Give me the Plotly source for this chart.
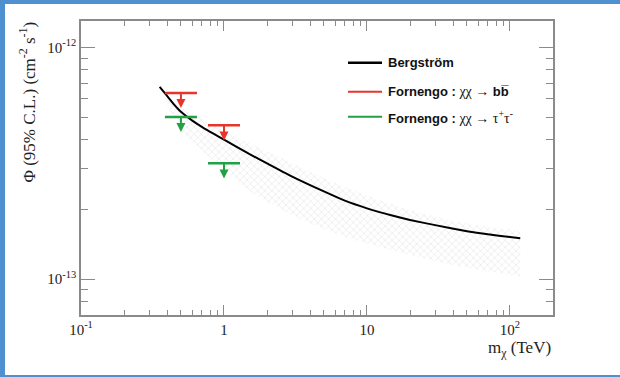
import math
import plotly.graph_objects as go

# ---------------- data ----------------
berg_mass = [0.355, 0.4, 0.45, 0.5, 0.6, 0.7, 0.85, 1.0, 1.5, 2.0, 3.0, 5.0, 7.0, 10.0, 15.0, 20.0, 30.0,
             50.0, 70.0, 100.0, 118.0]
berg_flux = [6.75e-13, 6.17e-13, 5.65e-13, 5.27e-13, 4.83e-13, 4.54e-13, 4.23e-13, 4.00e-13, 3.47e-13,
             3.16e-13, 2.77e-13, 2.39e-13, 2.18e-13, 2.02e-13, 1.88e-13, 1.80e-13, 1.71e-13, 1.61e-13,
             1.56e-13, 1.52e-13, 1.50e-13]

band_mass = [0.40, 0.5, 0.7, 1.0, 1.5, 2.5, 4.0, 7.0, 12.0, 20.0, 40.0, 70.0, 118.0]
band_upper = [6.1e-13, 5.5e-13, 4.9e-13, 4.35e-13, 3.85e-13, 3.35e-13, 2.9e-13, 2.5e-13, 2.2e-13, 1.98e-13,
              1.78e-13, 1.68e-13, 1.62e-13]
band_lower = [5.6e-13, 4.3e-13, 3.6e-13, 2.95e-13, 2.4e-13, 2.0e-13, 1.74e-13, 1.52e-13, 1.38e-13, 1.27e-13,
              1.15e-13, 1.08e-13, 1.03e-13]

bb_mass = [0.5, 1.0]
bb_limit = [6.36e-13, 4.61e-13]
tau_mass = [0.5, 1.0]
tau_limit = [5.01e-13, 3.16e-13]

x_tickvals = [0.1, 1, 10, 100]
x_ticktext = ["10<sup>-1</sup>", "1", "10", "10<sup>2</sup>"]
y_tickvals = [1e-13, 1e-12]
y_ticktext = ["10<sup>-13</sup>", "10<sup>-12</sup>"]

legend_labels = [
    "<b>Bergström</b>",
    "<b>Fornengo :</b><span style='font-family:Liberation Serif;font-size:14px'> χχ → </span><b>bb\u0305</b>",
    "<b>Fornengo :</b><span style='font-family:Liberation Serif;font-size:14px'> χχ → τ<sup>+</sup>τ<sup>-</sup></span>",
]

# ---------------- style ----------------
RED = "#e8352b"
GREEN = "#22a045"
FRAME = "#8a8a8a"
BLUE = "#4f90d0"
PAGE_W, PAGE_H = 620, 377
OFF_X, OFF_Y = 5, 4           # blue border on left / top of the picture
W, H = PAGE_W - OFF_X, PAGE_H - OFF_Y - 2
ML, MT = 81 - OFF_X, 21 - OFF_Y
MR = W - (553 - OFF_X)
MB = H - (315 - OFF_Y)
PW, PH = W - ML - MR, H - MT - MB


def px(xp):  # page pixel -> paper
    return (xp - OFF_X - ML) / PW


def py(yp):
    return (MT + PH - (yp - OFF_Y)) / PH


fig = go.Figure()

# band (hatched)
fig.add_trace(go.Scatter(
    x=band_mass + band_mass[::-1],
    y=band_upper + band_lower[::-1],
    fill="toself", mode="lines", line=dict(width=0, color="rgba(0,0,0,0)"),
    fillcolor="rgba(255,255,255,0)",
    fillpattern=dict(shape="x", fgcolor="#d2d2d2", bgcolor="rgba(255,255,255,0)", size=5, solidity=0.25),
    hoverinfo="skip", showlegend=False))

# Bergstrom curve
fig.add_trace(go.Scatter(x=berg_mass, y=berg_flux, mode="lines",
                         line=dict(color="black", width=2, shape="spline", smoothing=0.5),
                         showlegend=False))

HALF = 0.112   # half-width of limit bars in decades
STEM = 0.065   # arrow length in decades
for masses, limits, col in [(bb_mass, bb_limit, RED), (tau_mass, tau_limit, GREEN)]:
    for m, v in zip(masses, limits):
        fig.add_trace(go.Scatter(x=[m * 10 ** -HALF, m * 10 ** HALF], y=[v, v], mode="lines",
                                 line=dict(color=col, width=2.5), showlegend=False, hoverinfo="skip"))
        fig.add_trace(go.Scatter(x=[m, m], y=[v, v * 10 ** -(STEM * 0.8)], mode="lines",
                                 line=dict(color=col, width=2), showlegend=False, hoverinfo="skip"))
        fig.add_trace(go.Scatter(x=[m], y=[v * 10 ** -STEM], mode="markers",
                                 marker=dict(symbol="arrow-down", size=9, color=col, line=dict(width=0)),
                                 showlegend=False, hoverinfo="skip"))

axis_common = dict(type="log", showgrid=False, zeroline=False, showline=True, linecolor=FRAME, linewidth=1.5,
                   mirror="allticks", ticks="inside", tickcolor=FRAME, tickwidth=1.2,
                   tickfont=dict(family="Liberation Serif", size=15, color="#222"))

x_minor = [d * 10 ** e for e in range(-1, 3) for d in range(2, 10) if d * 10 ** e < 200]
y_minor = [d * 10 ** e for e in (-14, -13) for d in range(2, 10) if 7e-14 <= d * 10 ** e <= 1.3e-12]

fig.update_xaxes(range=[-1, math.log10(200)], tickmode="array", tickvals=x_tickvals, ticktext=x_ticktext,
                 ticklen=10, minor=dict(tickmode="array", tickvals=x_minor, ticks="inside", ticklen=5,
                                        tickcolor=FRAME, tickwidth=1.2),
                 **axis_common)
fig.update_yaxes(range=[math.log10(7e-14), math.log10(1.3e-12)], tickmode="array", tickvals=y_tickvals,
                 ticktext=y_ticktext, ticklen=14,
                 minor=dict(tickmode="array", tickvals=y_minor, ticks="inside", ticklen=7,
                            tickcolor=FRAME, tickwidth=1.2),
                 **axis_common)

# axis titles
fig.add_annotation(xref="paper", yref="paper", x=px(553), y=py(336), xanchor="right", yanchor="top",
                   text="m<sub>χ</sub> (TeV)", showarrow=False,
                   font=dict(family="Liberation Serif", size=17, color="#222"))
fig.add_annotation(xref="paper", yref="paper", x=px(27), y=py(20), xanchor="center", yanchor="top",
                   textangle=-90, text="Φ (95% C.L.) (cm<sup>-2</sup> s<sup>-1</sup>)", showarrow=False,
                   font=dict(family="Liberation Serif", size=17, color="#222"))

# legend (manual)
rows_y = [62.7, 91.7, 116.7]
cols = ["black", RED, GREEN]
for yy, col, lab in zip(rows_y, cols, legend_labels):
    fig.add_shape(type="line", xref="paper", yref="paper", x0=px(348), x1=px(382), y0=py(yy), y1=py(yy),
                  line=dict(color=col, width=2.5 if col == "black" else 2))
    fig.add_annotation(xref="paper", yref="paper", x=px(386), y=py(yy), xanchor="left", yanchor="middle",
                       text=lab, showarrow=False,
                       font=dict(family="Liberation Sans", size=13, color="#111"))

fig.update_layout(width=W, height=H, margin=dict(l=ML, r=MR, t=MT, b=MB),
                  paper_bgcolor="white", plot_bgcolor="white", showlegend=False)

page_js = ("var b=document.body;b.style.margin='0';b.style.padding='%dpx 0 0 %dpx';"
           "b.style.background='%s';document.documentElement.style.background='%s';"
           "b.style.overflow='hidden';" % (OFF_Y, OFF_X, BLUE, BLUE))
fig.write_html("out.html", config={"displayModeBar": False}, post_script=page_js)
